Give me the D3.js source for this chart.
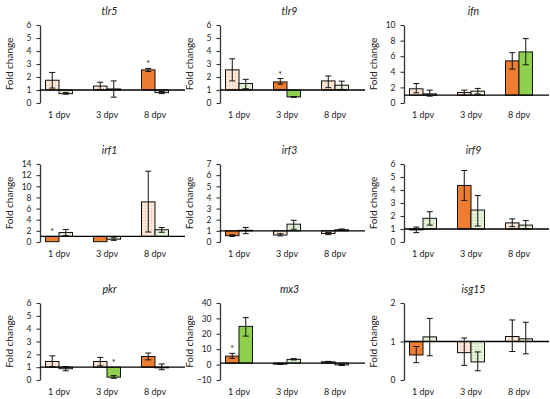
<!DOCTYPE html>
<html>
<head>
<meta charset="utf-8">
<script src="https://cdn.jsdelivr.net/npm/d3@7"></script>
<style>
  body { margin: 0; background: #fff; }
  svg text { font-family: Lato, "Open Sans", sans-serif; fill: #222; }
</style>
</head>
<body>
<script>
// Chart data
const genes = ["tlr5", "tlr9", "ifn", "irf1", "irf3", "irf9", "pkr", "mx3", "isg15"];
const categories = ["1 dpv", "3 dpv", "8 dpv"];

// y tick labels per panel
const yTicks = {
  tlr5: [0, 1, 2, 3, 4, 5, 6],
  tlr9: [0, 1, 2, 3, 4, 5, 6],
  ifn: [0, 2, 4, 6, 8, 10],
  irf1: [0, 2, 4, 6, 8, 10, 12, 14],
  irf3: [0, 1, 2, 3, 4, 5, 6, 7],
  irf9: [0, 1, 2, 3, 4, 5, 6],
  pkr: [0, 1, 2, 3, 4, 5, 6],
  mx3: [-10, 0, 10, 20, 30, 40],
  isg15: [0, 1, 2]
};

// mean values: [orange, green] per time point
const means = {
  tlr5: [[1.75, 0.72], [1.3, 1.08], [2.55, 0.8]],
  tlr9: [[2.55, 1.5], [1.62, 0.47], [1.7, 1.37]],
  ifn: [[1.82, 1.17], [1.34, 1.52], [5.4, 6.55]],
  irf1: [[0.06, 1.7], [0.06, 0.5], [7.2, 2.2]],
  irf3: [[0.57, 1.05], [0.63, 1.6], [0.76, 1.1]],
  irf9: [[0.93, 1.82], [4.35, 2.46], [1.47, 1.3]],
  pkr: [[1.44, 0.88], [1.44, 0.22], [1.83, 0.95]],
  mx3: [[5.5, 24.8], [0.3, 3.4], [1.8, -0.2]],
  isg15: [[0.65, 1.12], [0.71, 0.47], [1.13, 1.07]]
};

// error bar ranges: [[lo, hi], [lo, hi]] per time point
const errors = {
  tlr5: [[[1.15, 2.35], [0.68, 0.8]], [[1.03, 1.6], [0.45, 1.7]], [[2.42, 2.66], [0.72, 0.88]]],
  tlr9: [[[1.7, 3.4], [1.1, 1.82]], [[1.45, 1.88], [0.44, 0.5]], [[1.18, 2.08], [1.03, 1.68]]],
  ifn: [[[1.3, 2.5], [0.88, 1.65]], [[1.0, 1.65], [1.15, 1.87]], [[4.35, 6.45], [4.9, 8.25]]],
  irf1: [[[0.06, 0.06], [1.15, 2.25]], [[0.06, 0.06], [0.3, 0.75]], [[1.8, 12.7], [1.75, 2.6]]],
  irf3: [[[0.5, 0.65], [0.75, 1.3]], [[0.55, 0.75], [1.15, 1.95]], [[0.66, 0.86], [1.05, 1.17]]],
  irf9: [[[0.72, 1.15], [1.3, 2.33]], [[3.2, 5.5], [1.23, 3.57]], [[1.18, 1.78], [1.0, 1.65]]],
  pkr: [[[1.04, 1.88], [0.72, 1.05]], [[1.1, 1.76], [0.13, 0.34]], [[1.57, 2.1], [0.8, 1.25]]],
  mx3: [[[4.1, 7.3], [18.5, 30.5]], [[0.1, 0.4], [3.0, 3.9]], [[1.5, 2.1], [-0.6, 0.1]]],
  isg15: [[[0.45, 0.87], [0.63, 1.6]], [[0.38, 1.09], [0.24, 0.73]], [[0.74, 1.56], [0.68, 1.5]]]
};

// significant (solid fill) flags
const solid = {
  tlr5: [[0, 0], [0, 0], [1, 0]],
  tlr9: [[0, 0], [1, 1], [0, 0]],
  ifn: [[0, 0], [0, 0], [1, 1]],
  irf1: [[1, 0], [1, 0], [0, 0]],
  irf3: [[1, 0], [0, 0], [0, 0]],
  irf9: [[0, 0], [1, 0], [0, 0]],
  pkr: [[0, 0], [0, 1], [1, 0]],
  mx3: [[1, 1], [0, 0], [0, 0]],
  isg15: [[1, 0], [0, 0], [0, 0]]
};

// asterisks: [time index, series index]
const stars = {
  tlr5: [[2, 0]],
  tlr9: [[1, 0]],
  irf1: [[0, 0]],
  pkr: [[1, 1]],
  mx3: [[0, 0]]
};

const W = 550, H = 399;
const colX = [40, 220, 404];
const rowY = [[25, 103], [164, 242], [303, 380]];
const plotW = 145;
const barW = 13.5;

const svg = d3.select("body").append("svg")
  .attr("width", W).attr("height", H);

// dotted patterns for the non significant bars
const defs = svg.append("defs");
function dots(id, bg, fg) {
  const p = defs.append("pattern").attr("id", id)
    .attr("width", 3).attr("height", 3).attr("patternUnits", "userSpaceOnUse");
  p.append("rect").attr("width", 3).attr("height", 3).attr("fill", bg);
  p.append("rect").attr("x", 1).attr("y", 1).attr("width", 1).attr("height", 1).attr("fill", fg);
}
dots("lightOrange", "#fce9dc", "#f2b48a");
dots("lightGreen", "#e6f2dc", "#b2d695");

const fills = [["url(#lightOrange)", "#ed7d31"], ["url(#lightGreen)", "#8fd14f"]];

genes.forEach((gene, gi) => {
  const col = gi % 3, row = Math.floor(gi / 3);
  const x0 = colX[col];
  const [top, bottom] = rowY[row];
  const ticks = yTicks[gene];

  const g = svg.append("g");

  const y = d3.scaleLinear()
    .domain([ticks[0], ticks[ticks.length - 1]])
    .range([bottom, top]);
  const xg = d3.scalePoint().domain(categories).range([x0 + 19, x0 + 115]);
  const xs = d3.scaleBand().domain([0, 1]).range([-barW, barW]);

  // title
  g.append("text")
    .attr("x", x0 + plotW / 2 - 3)
    .attr("y", top - 10)
    .attr("text-anchor", "middle")
    .attr("font-size", 10.5)
    .attr("font-style", "italic")
    .text(gene);

  // y axis label
  g.append("text")
    .attr("transform", `translate(${x0 - 27},${(top + bottom) / 2}) rotate(-90)`)
    .attr("text-anchor", "middle")
    .attr("font-size", 10)
    .text("Fold change");

  // y axis
  const yAxis = d3.axisLeft(y).tickValues(ticks).tickFormat(d3.format("d"))
    .tickSize(3.5).tickSizeOuter(0).tickPadding(5);
  const ya = g.append("g").attr("transform", `translate(${x0},0)`).call(yAxis);
  ya.select(".domain").attr("stroke", "#333").attr("stroke-width", 1.3);
  ya.selectAll(".tick line").attr("stroke", "#333").attr("stroke-width", 1.1);
  ya.selectAll(".tick text").attr("font-size", 8.5).attr("fill", "#333")
    .style("font-family", "Lato, 'Open Sans', sans-serif");

  // bars, drawn from the baseline of 1
  const rows = [];
  categories.forEach((c, ci) => {
    [0, 1].forEach(si => {
      rows.push({
        c, si,
        v: means[gene][ci][si],
        lo: errors[gene][ci][si][0],
        hi: errors[gene][ci][si][1],
        solid: solid[gene][ci][si]
      });
    });
  });

  g.selectAll("rect.bar").data(rows).join("rect")
    .attr("class", "bar")
    .attr("x", d => xg(d.c) + xs(d.si))
    .attr("width", xs.bandwidth())
    .attr("y", d => y(Math.max(d.v, 1)))
    .attr("height", d => Math.abs(y(d.v) - y(1)))
    .attr("fill", d => fills[d.si][d.solid])
    .attr("stroke", "#111")
    .attr("stroke-width", 1);

  // error bars
  const eb = g.selectAll("g.err").data(rows.filter(d => d.hi - d.lo > 0.0001)).join("g").attr("class", "err")
    .attr("stroke", "#111").attr("stroke-width", 1);
  const cx = d => xg(d.c) + xs(d.si) + xs.bandwidth() / 2;
  eb.append("line").attr("x1", cx).attr("x2", cx).attr("y1", d => y(d.lo)).attr("y2", d => y(d.hi));
  eb.append("line").attr("x1", d => cx(d) - 3).attr("x2", d => cx(d) + 3).attr("y1", d => y(d.lo)).attr("y2", d => y(d.lo));
  eb.append("line").attr("x1", d => cx(d) - 3).attr("x2", d => cx(d) + 3).attr("y1", d => y(d.hi)).attr("y2", d => y(d.hi));

  // baseline at 1
  g.append("line")
    .attr("x1", x0).attr("x2", x0 + plotW)
    .attr("y1", y(1)).attr("y2", y(1))
    .attr("stroke", "#000").attr("stroke-width", 1.3);

  // asterisks
  (stars[gene] || []).forEach(([ci, si]) => {
    const hi = Math.max(errors[gene][ci][si][1], means[gene][ci][si], 1);
    g.append("text")
      .attr("x", xg(categories[ci]) + xs(si) + xs.bandwidth() / 2)
      .attr("y", y(hi) - 1)
      .attr("text-anchor", "middle")
      .attr("font-size", 9)
      .text("*");
  });

  // category labels
  g.selectAll("text.cat").data(categories).join("text")
    .attr("class", "cat")
    .attr("x", d => xg(d))
    .attr("y", bottom + 15)
    .attr("text-anchor", "middle")
    .attr("font-size", 9)
    .attr("fill", "#333")
    .text(d => d);
});
</script>
</body>
</html>
